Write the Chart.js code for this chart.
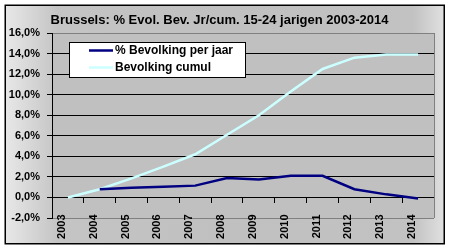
<!DOCTYPE html>
<html>
<head>
<meta charset="utf-8">
<script src="https://cdn.jsdelivr.net/npm/chart.js@4/dist/chart.umd.min.js"></script>
<style>
  html, body { margin: 0; padding: 0; background: #ffffff; }
  #wrap { width: 450px; height: 250px; position: relative; }
</style>
</head>
<body>
<div id="wrap"><canvas id="c" width="450" height="250"></canvas></div>
<script>
const titleText = 'Brussels: % Evol. Bev. Jr/cum. 15-24 jarigen 2003-2014';
const years = ['2003','2004','2005','2006','2007','2008','2009','2010','2011','2012','2013','2014'];
const perYearLabel = '% Bevolking per jaar';
const perYear = [null, 0.8, 0.95, 1.05, 1.15, 1.9, 1.75, 2.1, 2.1, 0.8, 0.3, -0.1];
const cumulLabel = 'Bevolking cumul';
const cumul = [0.0, 0.8, 1.85, 3.0, 4.2, 6.1, 8.0, 10.3, 12.5, 13.6, 13.9, 13.9];
const yMin = -2, yMax = 16, yStep = 2;

const FONT = 'Arial, "Liberation Sans", sans-serif';

const framePlugin = {
  id: 'frame',
  beforeDraw(chart) {
    const ctx = chart.ctx;
    const ca = chart.chartArea;
    ctx.save();
    ctx.fillStyle = '#ffffff';
    ctx.fillRect(0, 0, chart.width, chart.height);
    const g = ctx.createLinearGradient(5, 0, 444, 0);
    g.addColorStop(0, '#e8e8e8');
    g.addColorStop(0.12, '#c4c4c4');
    g.addColorStop(0.5, '#c0c0c0');
    g.addColorStop(0.93, '#c2c2c2');
    g.addColorStop(1, '#e0e0e0');
    ctx.fillStyle = g;
    ctx.fillRect(5, 5, 439, 239);
    ctx.strokeStyle = '#000000';
    ctx.lineWidth = 1.5;
    ctx.strokeRect(5.25, 5.25, 439, 238.5);
    ctx.fillStyle = '#c0c0c0';
    ctx.fillRect(ca.left, ca.top, ca.right - ca.left, ca.bottom - ca.top);
    ctx.restore();
  },
  beforeDatasetsDraw(chart) {
    const ctx = chart.ctx;
    const ca = chart.chartArea;
    ctx.save();
    ctx.strokeStyle = '#808080';
    ctx.lineWidth = 1;
    ctx.beginPath();
    ctx.moveTo(Math.round(ca.right) + 0.5, ca.top);
    ctx.lineTo(Math.round(ca.right) + 0.5, ca.bottom);
    ctx.stroke();
    ctx.restore();
  },
  afterDraw(chart) {
    // legend box inside the plot area
    const ctx = chart.ctx;
    const x0 = 69, y0 = 42, w = 176, h = 35;
    ctx.save();
    ctx.fillStyle = '#ffffff';
    ctx.fillRect(x0, y0, w, h);
    ctx.strokeStyle = '#000000';
    ctx.lineWidth = 1;
    ctx.strokeRect(x0 + 0.5, y0 + 0.5, w, h);
    ctx.font = 'bold 12px ' + FONT;
    ctx.textBaseline = 'middle';
    ctx.textAlign = 'left';
    chart.data.datasets.forEach((ds, i) => {
      const yy = y0 + 8.5 + i * 17;
      ctx.strokeStyle = ds.borderColor;
      ctx.lineWidth = 2.5;
      ctx.beginPath();
      ctx.moveTo(x0 + 20, yy);
      ctx.lineTo(x0 + 44, yy);
      ctx.stroke();
      ctx.fillStyle = '#000000';
      ctx.fillText(ds.label, x0 + 46, yy + 0.5);
    });
    ctx.restore();
  }
};

new Chart(document.getElementById('c'), {
  type: 'line',
  data: {
    labels: years,
    datasets: [
      { label: perYearLabel, data: perYear, borderColor: '#000080', backgroundColor: '#000080',
        borderWidth: 2.5, pointRadius: 0, tension: 0, fill: false },
      { label: cumulLabel, data: cumul, borderColor: '#ccffff', backgroundColor: '#ccffff',
        borderWidth: 2.5, pointRadius: 0, tension: 0, fill: false }
    ]
  },
  options: {
    responsive: false,
    animation: false,
    layout: { padding: { left: 5, right: 16, top: 0, bottom: 32 } },
    plugins: {
      legend: { display: false },
      tooltip: { enabled: false },
      title: {
        display: true,
        text: titleText,
        color: '#000000',
        font: { family: FONT, size: 13, weight: 'bold' },
        padding: { top: 13, bottom: 4.4 }
      }
    },
    scales: {
      x: {
        type: 'category',
        position: { y: 0 },
        offset: true,
        grid: { display: true, drawOnChartArea: false, offset: true, tickLength: 5, tickColor: '#000000', color: '#000000' },
        border: { display: true, color: '#000000', width: 1 },
        ticks: {
          color: '#000000',
          font: { family: FONT, size: 11, weight: 'bold' },
          minRotation: 90, maxRotation: 90,
          autoSkip: false,
          padding: 12,
          labelOffset: -6
        }
      },
      y: {
        min: yMin, max: yMax,
        afterFit(scale) { scale.width = 47; },
        grid: {
          color: (c) => (c.tick && (c.tick.value === yMax || c.tick.value === yMin)) ? '#808080' : '#000000',
          tickColor: '#000000',
          tickLength: 5,
          lineWidth: 1
        },
        border: { display: true, color: '#000000', width: 1 },
        ticks: {
          stepSize: yStep,
          color: '#000000',
          padding: 7,
          font: { family: FONT, size: 11, weight: 'bold' },
          callback: (v) => v.toFixed(1).replace('.', ',') + '%'
        }
      }
    }
  },
  plugins: [framePlugin]
});
</script>
</body>
</html>
